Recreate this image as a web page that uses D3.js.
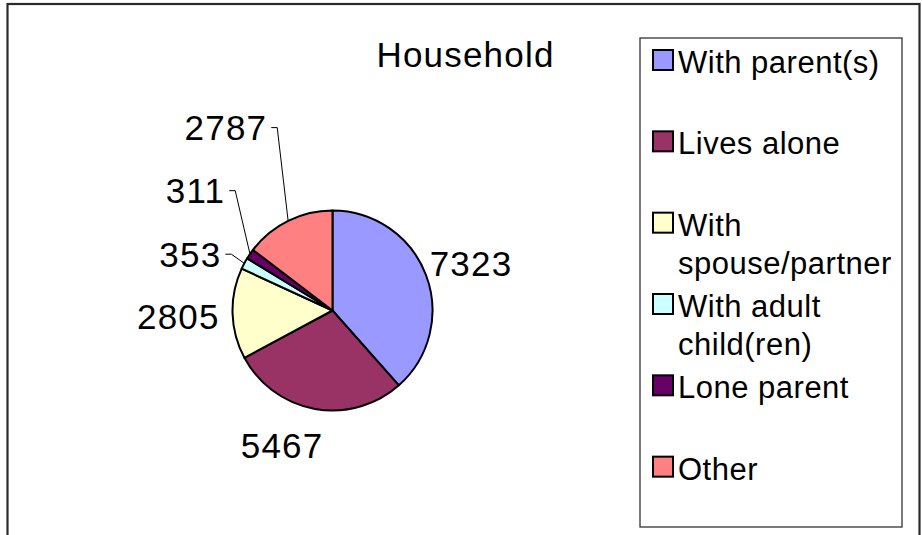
<!DOCTYPE html>
<html>
<head>
<meta charset="utf-8">
<script src="https://cdn.jsdelivr.net/npm/d3@7"></script>
<style>
  body { margin: 0; background: #fff; }
  text { font-family: "Liberation Sans", Arial, sans-serif; fill: #000; }
</style>
</head>
<body>
<div id="chart"></div>
<script>
// chart data
var categories = ["With parent(s)", "Lives alone", "With spouse/partner", "With adult child(ren)", "Lone parent", "Other"]
var values = [7323, 5467, 2805, 353, 311, 2787]
var colors = ["#9999ff", "#993366", "#ffffcc", "#ccffff", "#660066", "#ff8080"]
// legend text split over lines, as in the original
var legendLines = [["With parent(s)"], ["Lives alone"], ["With", "spouse/partner"], ["With adult", "child(ren)"], ["Lone parent"], ["Other"]]

// label placement: shift (degrees) from slice middle, distance in radii, leader line or not
var labelShift = [1.9, 10.4, -0.3, -6.5, 6.8, -3.9]
var labelDist = [1.464, 1.441, 1.543, 1.529, 1.82, 2.117]
var labelLeader = [false, false, false, true, true, true]

var width = 922, height = 535
var cx = 332.5, cy = 310.5, radius = 100

var svg = d3.select("#chart")
  .append("svg")
    .attr("width", width)
    .attr("height", height)

// outer chart border
svg.append("rect")
  .attr("x", 7.5).attr("y", 4)
  .attr("width", 912).attr("height", 600)
  .attr("fill", "#fff")
  .attr("stroke", "#2a2a2a")
  .attr("stroke-width", 2.2)

// title
svg.append("text")
  .attr("x", 465.5)
  .attr("y", 67)
  .attr("text-anchor", "middle")
  .style("font-size", "35px")
  .style("letter-spacing", "1.2px")
  .text("Household")

var pie = d3.pie()
  .sort(null)
  .value(function(d) { return d; })

var arcs = pie(values)

var arc = d3.arc()
  .innerRadius(0)
  .outerRadius(radius)

var g = svg.append("g")
  .attr("transform", "translate(" + cx + "," + cy + ")")

g.selectAll("path.slice")
  .data(arcs)
  .enter()
  .append("path")
    .attr("class", "slice")
    .attr("d", arc)
    .attr("fill", function(d, i) { return colors[i]; })
    .attr("stroke", "#000")
    .attr("stroke-width", 2)
    .attr("stroke-linejoin", "round")

// value labels
var toRad = Math.PI / 180
arcs.forEach(function(d, i) {
  var mid = (d.startAngle + d.endAngle) / 2
  var a = mid + labelShift[i] * toRad
  var r = labelDist[i] * radius
  var lx = Math.sin(a) * r
  var ly = -Math.cos(a) * r

  var t = g.append("text")
    .attr("x", lx)
    .attr("y", ly)
    .attr("dy", "0.36em")
    .attr("text-anchor", "middle")
    .style("font-size", "35px")
    .style("letter-spacing", "1.2px")
    .text(d3.format("d")(values[i]))

  if (labelLeader[i]) {
    var w = t.node().getComputedTextLength()
    var x0 = lx + w / 2 + 4
    var ex = Math.sin(mid) * radius
    var ey = -Math.cos(mid) * radius
    g.append("path")
      .attr("d", d3.line()([[x0, ly], [x0 + 6, ly], [ex, ey]]))
      .attr("fill", "none")
      .attr("stroke", "#000")
      .attr("stroke-width", 1)
  }
})

// legend
var lgX = 640, lgY = 38, lgW = 262, lgH = 489
var slot = (lgH - 1) / categories.length

svg.append("rect")
  .attr("x", lgX).attr("y", lgY)
  .attr("width", lgW).attr("height", lgH)
  .attr("fill", "#fff")
  .attr("stroke", "#333")
  .attr("stroke-width", 1.3)

var item = svg.selectAll("g.legend")
  .data(categories)
  .enter()
  .append("g")
    .attr("class", "legend")
    .attr("transform", function(d, i) { return "translate(" + lgX + "," + (lgY + 12 + i * slot) + ")"; })

item.append("rect")
  .attr("x", 13).attr("y", 0)
  .attr("width", 20).attr("height", 20)
  .attr("fill", function(d, i) { return colors[i]; })
  .attr("stroke", "#000")
  .attr("stroke-width", 2)

item.each(function(d, i) {
  var t = d3.select(this).append("text")
    .attr("x", 38)
    .attr("y", 23)
    .style("font-size", "31px")
    .style("letter-spacing", "0.5px")
  legendLines[i].forEach(function(line, j) {
    t.append("tspan")
      .attr("x", 38)
      .attr("dy", j === 0 ? 0 : 38)
      .text(line)
  })
})
</script>
</body>
</html>
